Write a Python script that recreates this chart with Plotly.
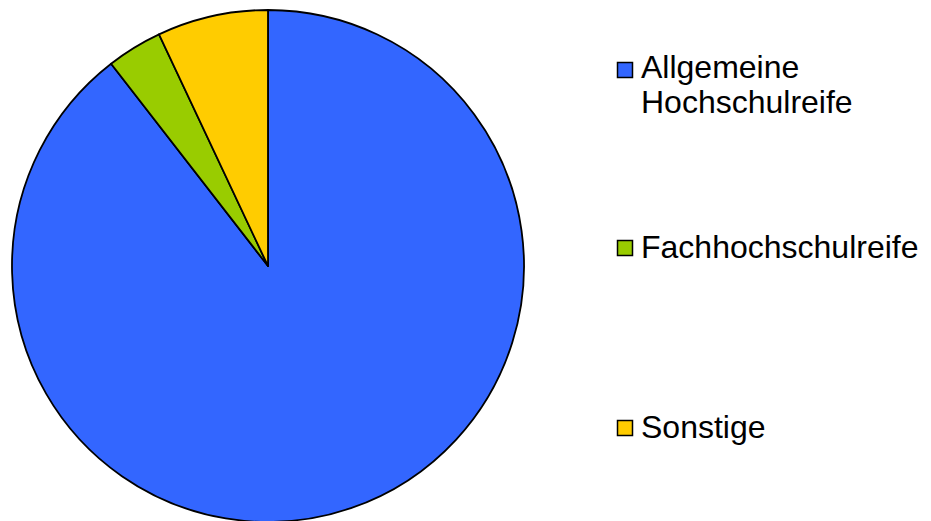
import plotly.graph_objects as go

categories = ["Allgemeine\nHochschulreife", "Fachhochschulreife", "Sonstige"]
values = [89.5, 3.5, 7.0]
colors = ["#3366FF", "#99CC00", "#FFCC00"]

W, H = 931, 521
OFF = 8  # page body margin

fig = go.Figure(go.Pie(
    labels=[c.replace("\n", " ") for c in categories],
    values=values,
    sort=False,
    direction="clockwise",
    rotation=0,
    textinfo="none",
    hoverinfo="label+percent",
    marker=dict(colors=colors, line=dict(color="black", width=1.8)),
    domain=dict(x=[(12 - OFF) / W, (524 - OFF) / W],
                y=[1 - (522 - OFF) / H, 1 - (10 - OFF) / H]),
    showlegend=False,
))

# manual legend (positions in page pixels)
square_centers = [70, 248, 428]
line_centers = [[67, 102], [247], [427]]
font = dict(family="Liberation Sans, Arial, sans-serif", size=32, color="black")
for cat, col, sc, lcs in zip(categories, colors, square_centers, line_centers):
    fig.add_shape(type="rect", xref="paper", yref="paper",
                  x0=(617.5 - OFF) / W, x1=(632.5 - OFF) / W,
                  y0=1 - (sc - OFF + 7.5) / H, y1=1 - (sc - OFF - 7.5) / H,
                  fillcolor=col, line=dict(color="black", width=1.5))
    for line, ly in zip(cat.split("\n"), lcs):
        fig.add_annotation(text=line, xref="paper", yref="paper",
                           x=(639 - OFF) / W, y=1 - (ly - OFF) / H,
                           xanchor="left", yanchor="middle",
                           showarrow=False, font=font)

fig.update_layout(
    width=W, height=H,
    margin=dict(l=0, r=0, t=0, b=0),
    paper_bgcolor="white",
    plot_bgcolor="white",
)

fig.write_html("out.html")
